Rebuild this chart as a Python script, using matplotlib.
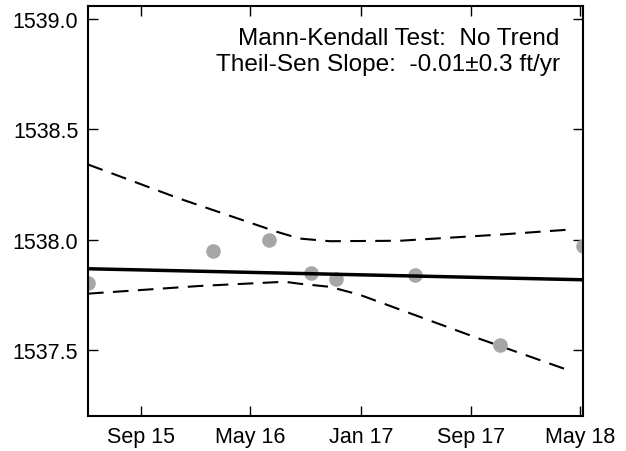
import matplotlib
matplotlib.use("Agg")
import matplotlib.pyplot as plt
import numpy as np

plt.rcParams['font.family'] = ['Liberation Sans', 'DejaVu Sans']

# observed water levels
obs_dates = ["2015-05-07", "2016-02-07", "2016-06-12", "2016-09-12",
             "2016-11-07", "2017-04-30", "2017-11-04", "2018-05-08"]
obs_levels = [1537.805, 1537.95, 1538.00, 1537.85,
              1537.82, 1537.84, 1537.52, 1537.97]

# Theil-Sen fit end points
fit_dates = ["2015-05-07", "2018-05-08"]
fit_levels = [1537.868, 1537.818]

# confidence band
upper_dates = ["2015-05-07", "2015-11-26", "2016-06-28", "2016-08-18",
               "2016-10-24", "2017-03-28", "2017-11-05", "2018-04-04"]
upper_levels = [1538.341, 1538.186, 1538.036, 1538.005,
                1537.993, 1537.995, 1538.023, 1538.045]
lower_dates = ["2015-05-07", "2016-01-10", "2016-07-16", "2016-08-18",
               "2016-10-24", "2016-12-29", "2017-05-11", "2017-09-21", "2018-04-04"]
lower_levels = [1537.755, 1537.79, 1537.809, 1537.80,
                1537.786, 1537.75, 1537.65, 1537.55, 1537.409]

xticks = ["2015-09-01", "2016-05-01", "2017-01-01", "2017-09-01", "2018-05-01"]
xlabels = ["Sep 15", "May 16", "Jan 17", "Sep 17", "May 18"]


def to_dt(lst):
    return np.array(lst, dtype="datetime64[D]")


fig = plt.figure(figsize=(6.26, 4.52), dpi=100)
ax = fig.add_axes([88 / 626, 35 / 452, 495 / 626, 410 / 452])

ax.plot(to_dt(upper_dates), upper_levels, color="black", lw=1.5, ls=(0, (7.5, 4.5)))
ax.plot(to_dt(lower_dates), lower_levels, color="black", lw=1.5, ls=(0, (7.5, 4.5)))
ax.plot(to_dt(obs_dates), obs_levels, "o", color="#a6a6a6", ms=10.5, mec="none")
ax.plot(to_dt(fit_dates), fit_levels, color="black", lw=2.5)

ax.set_xlim(to_dt(obs_dates)[0], to_dt(obs_dates)[-1])
ax.set_ylim(1537.2, 1539.06)
ax.set_yticks([1537.5, 1538.0, 1538.5, 1539.0])
ax.set_yticklabels(["1537.5", "1538.0", "1538.5", "1539.0"])
ax.set_xticks(to_dt(xticks))
ax.set_xticklabels(xlabels)

ax.tick_params(direction="in", length=7, width=1, top=True, right=True,
               labelsize=15.5, pad=7)
for s in ax.spines.values():
    s.set_linewidth(1.5)

ax.text(0.953, 0.948, "Mann-Kendall Test:  No Trend\nTheil-Sen Slope:  -0.01\u00b10.3 ft/yr",
        transform=ax.transAxes, ha="right", va="top", fontsize=17.6,
        linespacing=1.2)

fig.savefig("out.png", dpi=100)
